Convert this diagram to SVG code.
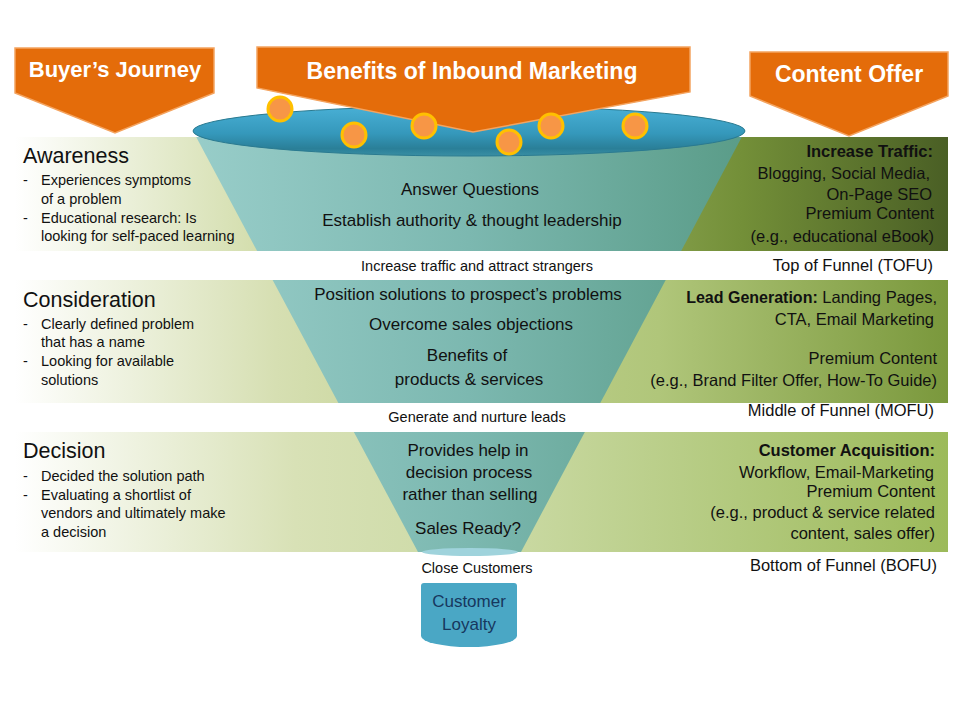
<svg xmlns="http://www.w3.org/2000/svg" width="960" height="720" viewBox="0 0 960 720">
<defs>
<linearGradient id="b1" gradientUnits="userSpaceOnUse" x1="15" y1="0" x2="948" y2="0">
<stop offset="0" stop-color="#ffffff"/><stop offset="0.25" stop-color="#d5dfb0"/><stop offset="0.5" stop-color="#a6bd6f"/><stop offset="0.78" stop-color="#738f38"/><stop offset="1" stop-color="#4a5f25"/>
</linearGradient>
<linearGradient id="b2" gradientUnits="userSpaceOnUse" x1="15" y1="0" x2="948" y2="0">
<stop offset="0" stop-color="#ffffff"/><stop offset="0.28" stop-color="#d6dfb2"/><stop offset="0.5" stop-color="#c0d08e"/><stop offset="0.69" stop-color="#b0c67a"/><stop offset="1" stop-color="#7a983c"/>
</linearGradient>
<linearGradient id="b3" gradientUnits="userSpaceOnUse" x1="15" y1="0" x2="948" y2="0">
<stop offset="0" stop-color="#ffffff"/><stop offset="0.3" stop-color="#d8e1b6"/><stop offset="0.55" stop-color="#c8d8a0"/><stop offset="1" stop-color="#9cba5a"/>
</linearGradient>
<linearGradient id="cone" gradientUnits="userSpaceOnUse" x1="193" y1="0" x2="745" y2="0">
<stop offset="0" stop-color="#98cdc9"/><stop offset="0.5" stop-color="#7cb8b0"/><stop offset="1" stop-color="#5a9c88"/>
</linearGradient>
<linearGradient id="top" x1="0" y1="0" x2="0" y2="1">
<stop offset="0" stop-color="#49b0d6"/><stop offset="0.55" stop-color="#3598bb"/><stop offset="0.85" stop-color="#2a7f98"/><stop offset="1" stop-color="#3a8fa4"/>
</linearGradient>
<clipPath id="bands">
<rect x="15" y="137" width="933" height="114"/>
<rect x="15" y="280" width="933" height="123"/>
<rect x="15" y="432" width="933" height="120"/>
</clipPath>
<style>
.t{font-family:"Liberation Sans",Arial,sans-serif;fill:#111}
.h{font-size:21.5px}
.s{font-size:14.5px}
.c{font-size:17px;text-anchor:middle}
.g{font-size:14.5px;text-anchor:middle}
.r{font-size:16.5px;text-anchor:end}
.bold{font-weight:bold}
.ban{fill:#e46c0a;stroke:#f4a460;stroke-width:1.5}
.bt{font-family:"Liberation Sans",Arial,sans-serif;font-weight:bold;fill:#ffffff;text-anchor:middle}
.dot{fill:#f79646;stroke:#ffc000;stroke-width:3}
</style>
</defs>
<rect width="960" height="720" fill="#ffffff"/>

<g id="band-awareness"><rect x="15" y="137" width="933" height="114" fill="url(#b1)"/></g>
<g id="band-consideration"><rect x="15" y="280" width="933" height="123" fill="url(#b2)"/></g>
<g id="band-decision"><rect x="15" y="432" width="933" height="120" fill="url(#b3)"/></g>

<g id="funnel">
<polygon points="193,131 745,131 521,552 418,552" fill="url(#cone)" clip-path="url(#bands)"/>
<ellipse cx="470" cy="552" rx="48" ry="4" fill="#9fd3dc"/>
<ellipse cx="469" cy="131" rx="276" ry="25" fill="url(#top)" stroke="#2a7a90" stroke-width="1"/>
</g>

<g id="banner-buyers">
<polygon class="ban" points="15,48 214,48 214,93 115,133 15,93"/>
<text class="bt" x="115" y="77" font-size="22">Buyer’s Journey</text>
</g>
<g id="banner-benefits">
<polygon class="ban" points="257,47 690,47 690,92 473,132 257,88"/>
<text class="bt" x="472" y="79" font-size="23">Benefits of Inbound Marketing</text>
</g>
<g id="banner-content">
<polygon class="ban" points="750,52 948,52 948,96 849,136 750,96"/>
<text class="bt" x="849" y="82" font-size="23">Content Offer</text>
</g>

<g id="dots">
<circle class="dot" cx="280" cy="109" r="12"/>
<circle class="dot" cx="354" cy="135" r="12"/>
<circle class="dot" cx="424" cy="126" r="12"/>
<circle class="dot" cx="509" cy="142" r="12"/>
<circle class="dot" cx="551" cy="126" r="12"/>
<circle class="dot" cx="635" cy="126" r="12"/>
</g>

<g id="awareness-text" class="t">
<text class="h" x="23" y="163">Awareness</text>
<text class="s" x="23" y="185">-</text><text class="s" x="41" y="185">Experiences symptoms</text>
<text class="s" x="41" y="204">of a problem</text>
<text class="s" x="23" y="223">-</text><text class="s" x="41" y="223">Educational research: Is</text>
<text class="s" x="41" y="241">looking for self-paced learning</text>
</g>
<g id="consideration-text" class="t">
<text class="h" x="23" y="307">Consideration</text>
<text class="s" x="23" y="329">-</text><text class="s" x="41" y="329">Clearly defined problem</text>
<text class="s" x="41" y="347">that has a name</text>
<text class="s" x="23" y="366">-</text><text class="s" x="41" y="366">Looking for available</text>
<text class="s" x="41" y="385">solutions</text>
</g>
<g id="decision-text" class="t">
<text class="h" x="23" y="458">Decision</text>
<text class="s" x="23" y="481">-</text><text class="s" x="41" y="481">Decided the solution path</text>
<text class="s" x="23" y="500">-</text><text class="s" x="41" y="500">Evaluating a shortlist of</text>
<text class="s" x="41" y="518">vendors and ultimately make</text>
<text class="s" x="41" y="537">a decision</text>
</g>

<g id="funnel-text" class="t">
<text class="c" x="470" y="195">Answer Questions</text>
<text class="c" x="472" y="226">Establish authority &amp; thought leadership</text>
<text class="g" x="477" y="271" font-size="15">Increase traffic and attract strangers</text>
<text class="c" x="468" y="300" font-size="16.5">Position solutions to prospect’s problems</text>
<text class="c" x="471" y="330">Overcome sales objections</text>
<text class="c" x="467" y="361">Benefits of</text>
<text class="c" x="469" y="385">products &amp; services</text>
<text class="g" x="477" y="422">Generate and nurture leads</text>
<text class="c" x="468" y="456">Provides help in</text>
<text class="c" x="469" y="478">decision process</text>
<text class="c" x="470" y="500">rather than selling</text>
<text class="c" x="468" y="534">Sales Ready?</text>
<text class="g" x="477" y="573">Close Customers</text>
</g>

<g id="customer-loyalty">
<path d="M421,586 Q421,583 424,583 H514 Q517,583 517,586 V636 A48 11 0 0 1 421 636 Z" fill="#4aa7c5"/>
<text class="t c" x="469" y="607" style="fill:#17375e">Customer</text>
<text class="t c" x="469" y="630" style="fill:#17375e">Loyalty</text>
</g>

<g id="content-tofu" class="t">
<text class="r bold" x="933" y="157" font-size="16">Increase Traffic:</text>
<text class="r" x="930" y="179">Blogging, Social Media,</text>
<text class="r" x="932" y="200">On-Page SEO</text>
<text class="r" x="934" y="219">Premium Content</text>
<text class="r" x="934" y="242">(e.g., educational eBook)</text>
<text class="r" x="933" y="271">Top of Funnel (TOFU)</text>
</g>
<g id="content-mofu" class="t">
<text class="r" x="937" y="303"><tspan font-weight="bold" font-size="16">Lead Generation:</tspan> Landing Pages,</text>
<text class="r" x="934" y="325">CTA, Email Marketing</text>
<text class="r" x="937" y="364">Premium Content</text>
<text class="r" x="937" y="386">(e.g., Brand Filter Offer, How-To Guide)</text>
<text class="r" x="934" y="416">Middle of Funnel (MOFU)</text>
</g>
<g id="content-bofu" class="t">
<text class="r bold" x="935" y="456" font-size="16">Customer Acquisition:</text>
<text class="r" x="934" y="478">Workflow, Email-Marketing</text>
<text class="r" x="935" y="497">Premium Content</text>
<text class="r" x="935" y="518">(e.g., product &amp; service related</text>
<text class="r" x="935" y="539">content, sales offer)</text>
<text class="r" x="937" y="571">Bottom of Funnel (BOFU)</text>
</g>
</svg>
